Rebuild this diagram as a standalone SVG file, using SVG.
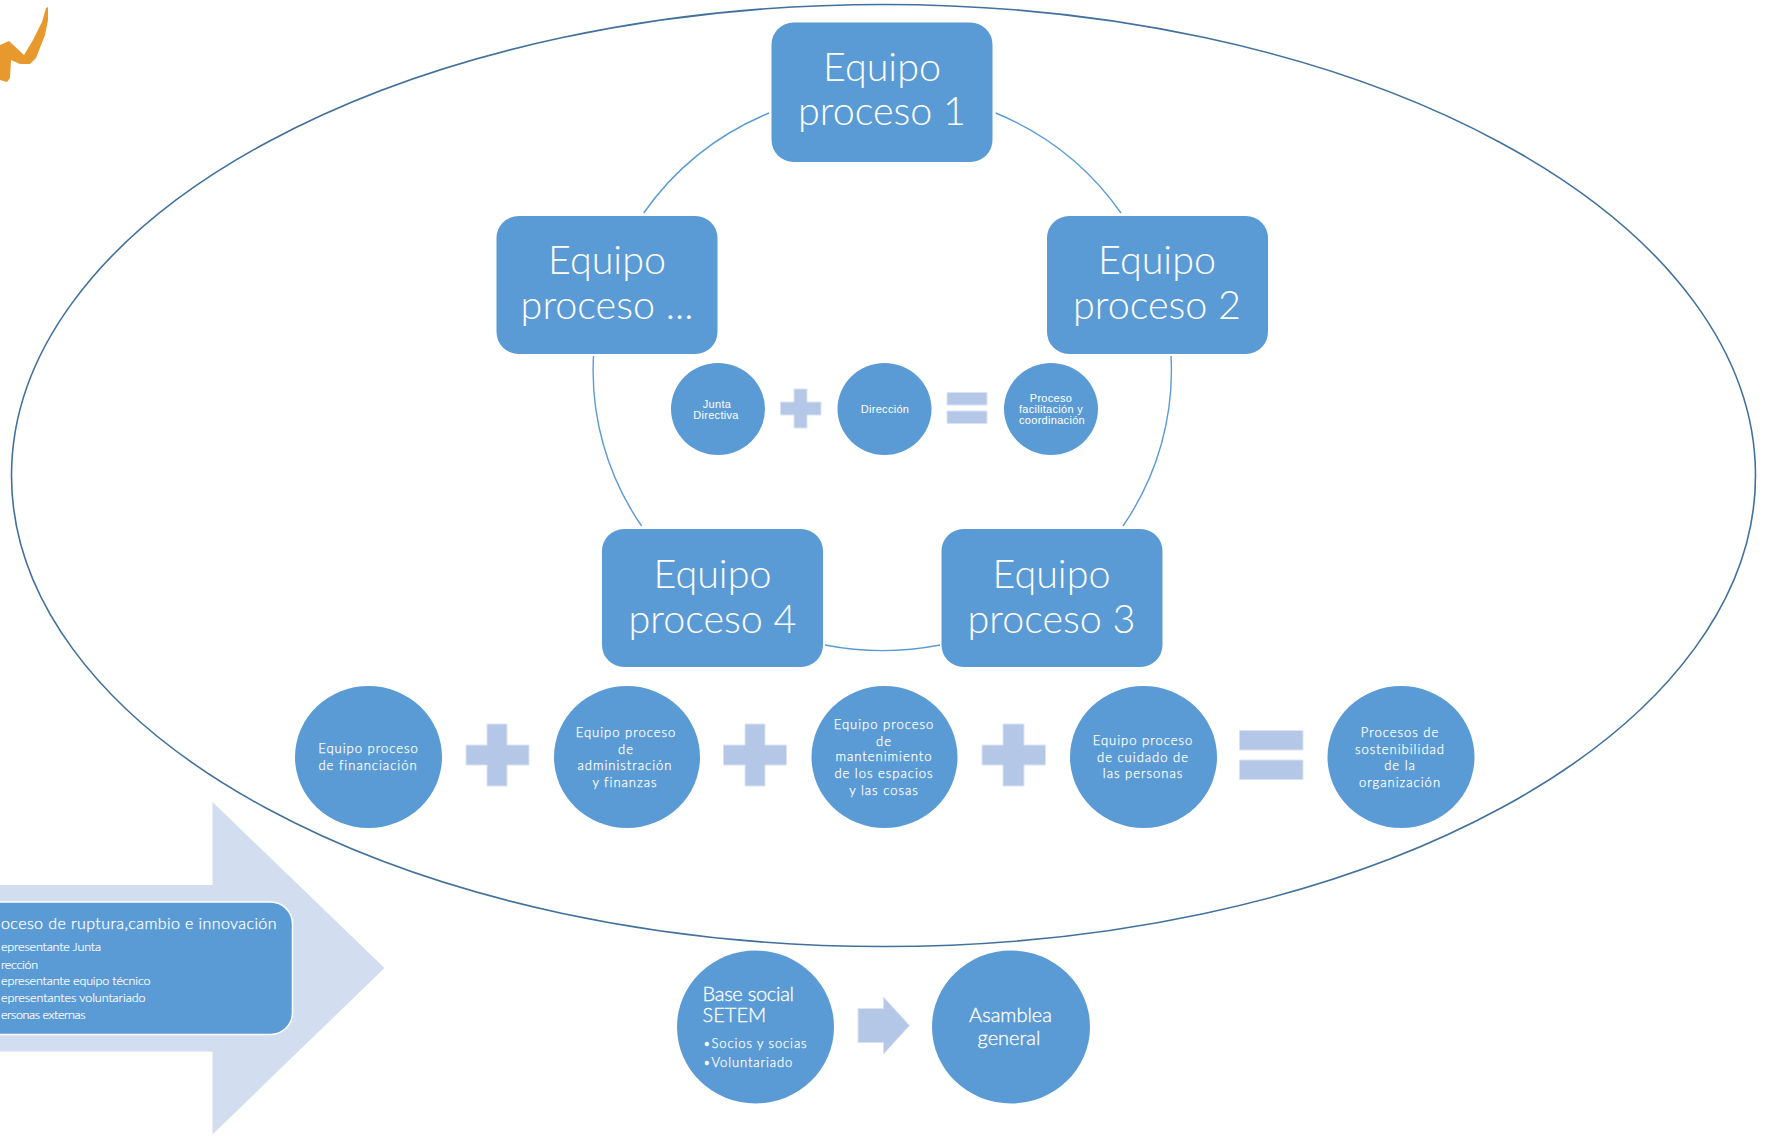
<svg xmlns="http://www.w3.org/2000/svg" width="1769" height="1136" viewBox="0 0 1769 1136">
<style>
text{fill:#fff;text-anchor:middle;font-family:Lato,"Open Sans",sans-serif}
.n{fill:#5B9BD5}
.b{font-size:39.5px;font-weight:300}
.s{font-family:"Liberation Sans",Arial,sans-serif;font-size:11px;letter-spacing:.3px;font-weight:400}
.m{font-size:13px;font-weight:300;letter-spacing:1px;stroke:#fff;stroke-width:.25px}
.l{font-size:20px;font-weight:300;stroke:#fff;stroke-width:.3px}
.p{text-anchor:start}
.h{font-size:16px;font-weight:300;stroke:#fff;stroke-width:.25px}
.r{font-size:12.500px;font-weight:300;stroke:#fff;stroke-width:.2px}
.k{font-size:13px;font-weight:300;letter-spacing:.9px;stroke:#fff;stroke-width:.25px}
.o{fill:#B4C7E7;stroke:#DAE3F3;stroke-width:1}
.a{fill:none;stroke:#5B9BD5;stroke-width:1.4}
</style>
<rect width="1769" height="1136" fill="#fff"/>
<path id="logo" fill="#E8992E" d="M0 45L9 41 24 55 33 40 42 22 46 8 48 7 48 20 45 35 36 58 30 64 20 64 11 60 10 78 7 82 0 80Z"/>
<ellipse id="frame" cx="883.500" cy="475.500" rx="872" ry="471" fill="none" stroke="#41719C" stroke-width="1.600"/>
<g id="connectors">
<path class="a" d="M769 113A289 280 0 0 0 643.700 213"/>
<path class="a" d="M995.700 113A289 280 0 0 1 1121 213"/>
<path class="a" d="M593.500 356A289 280 0 0 0 641.600 526"/>
<path class="a" d="M1171 356A289 280 0 0 1 1123 526"/>
<path class="a" d="M825 645A289 280 0 0 0 940 645"/>
</g>
<g id="team1"><rect class="n" x="771.500" y="22.500" width="221" height="139.500" rx="22"/><text class="b" x="882" y="80.500">Equipo</text><text class="b" x="882" y="125">proceso 1</text></g>
<g id="team2"><rect class="n" x="1047" y="216" width="221" height="138" rx="22"/><text class="b" x="1157" y="273.500">Equipo</text><text class="b" x="1157" y="319">proceso 2</text></g>
<g id="team3"><rect class="n" x="941.500" y="529" width="221" height="138" rx="22"/><text class="b" x="1051.500" y="587.500">Equipo</text><text class="b" x="1051.500" y="632.500">proceso 3</text></g>
<g id="team4"><rect class="n" x="602" y="529" width="221" height="138" rx="22"/><text class="b" x="712.500" y="587.500">Equipo</text><text class="b" x="712.500" y="632.500">proceso 4</text></g>
<g id="teamN"><rect class="n" x="496.500" y="216" width="221" height="138" rx="22"/><text class="b" x="607" y="273.500">Equipo</text><text class="b" x="607" y="319">proceso ...</text></g>
<g id="junta"><ellipse class="n" cx="718" cy="409" rx="47" ry="46"/><text class="s" x="717" y="407.500">Junta</text><text class="s" x="716" y="418.500">Directiva</text></g>
<path id="plus-a" class="o" d="M794 389h13v13h14v13h-14v13h-13v-13h-13.500v-13h13.500z"/>
<g id="direccion"><ellipse class="n" cx="884.500" cy="409" rx="47" ry="46"/><text class="s" x="885" y="413">Dirección</text></g>
<path id="equals-a" class="o" d="M947 392.500h40v12.500h-40zM947 411h40v12.500h-40z"/>
<g id="facilitacion"><ellipse class="n" cx="1051" cy="409" rx="47" ry="46"/><text class="s" x="1051" y="402">Proceso</text><text class="s" x="1051" y="413">facilitación y</text><text class="s" x="1052" y="423.500">coordinación</text></g>
<g id="financiacion"><ellipse class="n" cx="368.500" cy="757" rx="73.500" ry="71"/><text class="m" x="368.500" y="753">Equipo proceso</text><text class="m" x="368" y="770">de financiación</text></g>
<path id="plus-b" class="o" d="M487 724h20v21h22v20h-22v21h-20v-21h-21v-20h21z"/>
<g id="administracion"><ellipse class="n" cx="627" cy="757" rx="73" ry="71"/><text class="m" x="626" y="736.500">Equipo proceso</text><text class="m" x="626" y="753.500">de</text><text class="m" x="625" y="769.500">administración</text><text class="m" x="625" y="786.500">y finanzas</text></g>
<path id="plus-c" class="o" d="M745 724h20v21h21.500v20h-21.500v21h-20v-21h-21.500v-20h21.500z"/>
<g id="mantenimiento"><ellipse class="n" cx="884.500" cy="757" rx="73" ry="71"/><text class="m" x="884" y="728.500">Equipo proceso</text><text class="m" x="884" y="745.500">de</text><text class="m" x="884" y="761">mantenimiento</text><text class="m" x="884" y="778">de los espacios</text><text class="m" x="884" y="795">y las cosas</text></g>
<path id="plus-d" class="o" d="M1003 724h21v21h21.500v20h-21.500v21h-21v-21h-21v-20h21z"/>
<g id="cuidado"><ellipse class="n" cx="1143.500" cy="757" rx="73.500" ry="71"/><text class="m" x="1143" y="745">Equipo proceso</text><text class="m" x="1143" y="761.500">de cuidado de</text><text class="m" x="1143" y="777.500">las personas</text></g>
<path id="equals-b" class="o" d="M1239.500 730.500h63.500v19.500h-63.500zM1239.500 760h63.500v19.500h-63.500z"/>
<g id="sostenibilidad"><ellipse class="n" cx="1401" cy="757" rx="73.500" ry="71"/><text class="m" x="1400" y="736.500">Procesos de</text><text class="m" x="1400" y="753.500">sostenibilidad</text><text class="m" x="1400" y="769.500">de la</text><text class="m" x="1400" y="786.500">organización</text></g>
<path id="big-arrow" fill="#D2DEEF" d="M0 885H212.500V802L384.500 968 212.500 1134.500V1051.500H0Z"/>
<g id="ruptura"><rect class="n" x="-60" y="902" width="352.500" height="132.500" rx="22" stroke="#fff" stroke-width="1.500"/>
<text class="p h" x="1" y="928.500" textLength="275.500">oceso de ruptura,cambio e innovación</text>
<text class="p r" x="1" y="951" textLength="100">epresentante Junta</text><text class="p r" x="1" y="968.500" textLength="37">rección</text><text class="p r" x="1" y="984.500" textLength="149.500">epresentante equipo técnico</text><text class="p r" x="1" y="1001.500" textLength="144.500">epresentantes voluntariado</text><text class="p r" x="1" y="1018.500" textLength="84.500">ersonas externas</text></g>
<g id="base"><ellipse class="n" cx="755.500" cy="1027" rx="78.500" ry="76.500"/><text class="p l" x="702.500" y="1000.500" textLength="91.500">Base social</text><text class="p l" x="702.500" y="1022">SETEM</text><text class="p k" x="703" y="1048">•</text><text class="p k" x="711.500" y="1048">Socios y socias</text><text class="p k" x="703" y="1067">•</text><text class="p k" x="711.500" y="1067">Voluntariado</text></g>
<path id="arrow-c" class="o" d="M858 1008.500H883.500V997L909.500 1025.500 883.500 1054V1042.500H858Z"/>
<g id="asamblea"><ellipse class="n" cx="1011" cy="1027" rx="79" ry="76.500"/><text class="l" x="1010.500" y="1022">Asamblea</text><text class="l" x="1009" y="1044.500">general</text></g>
</svg>
